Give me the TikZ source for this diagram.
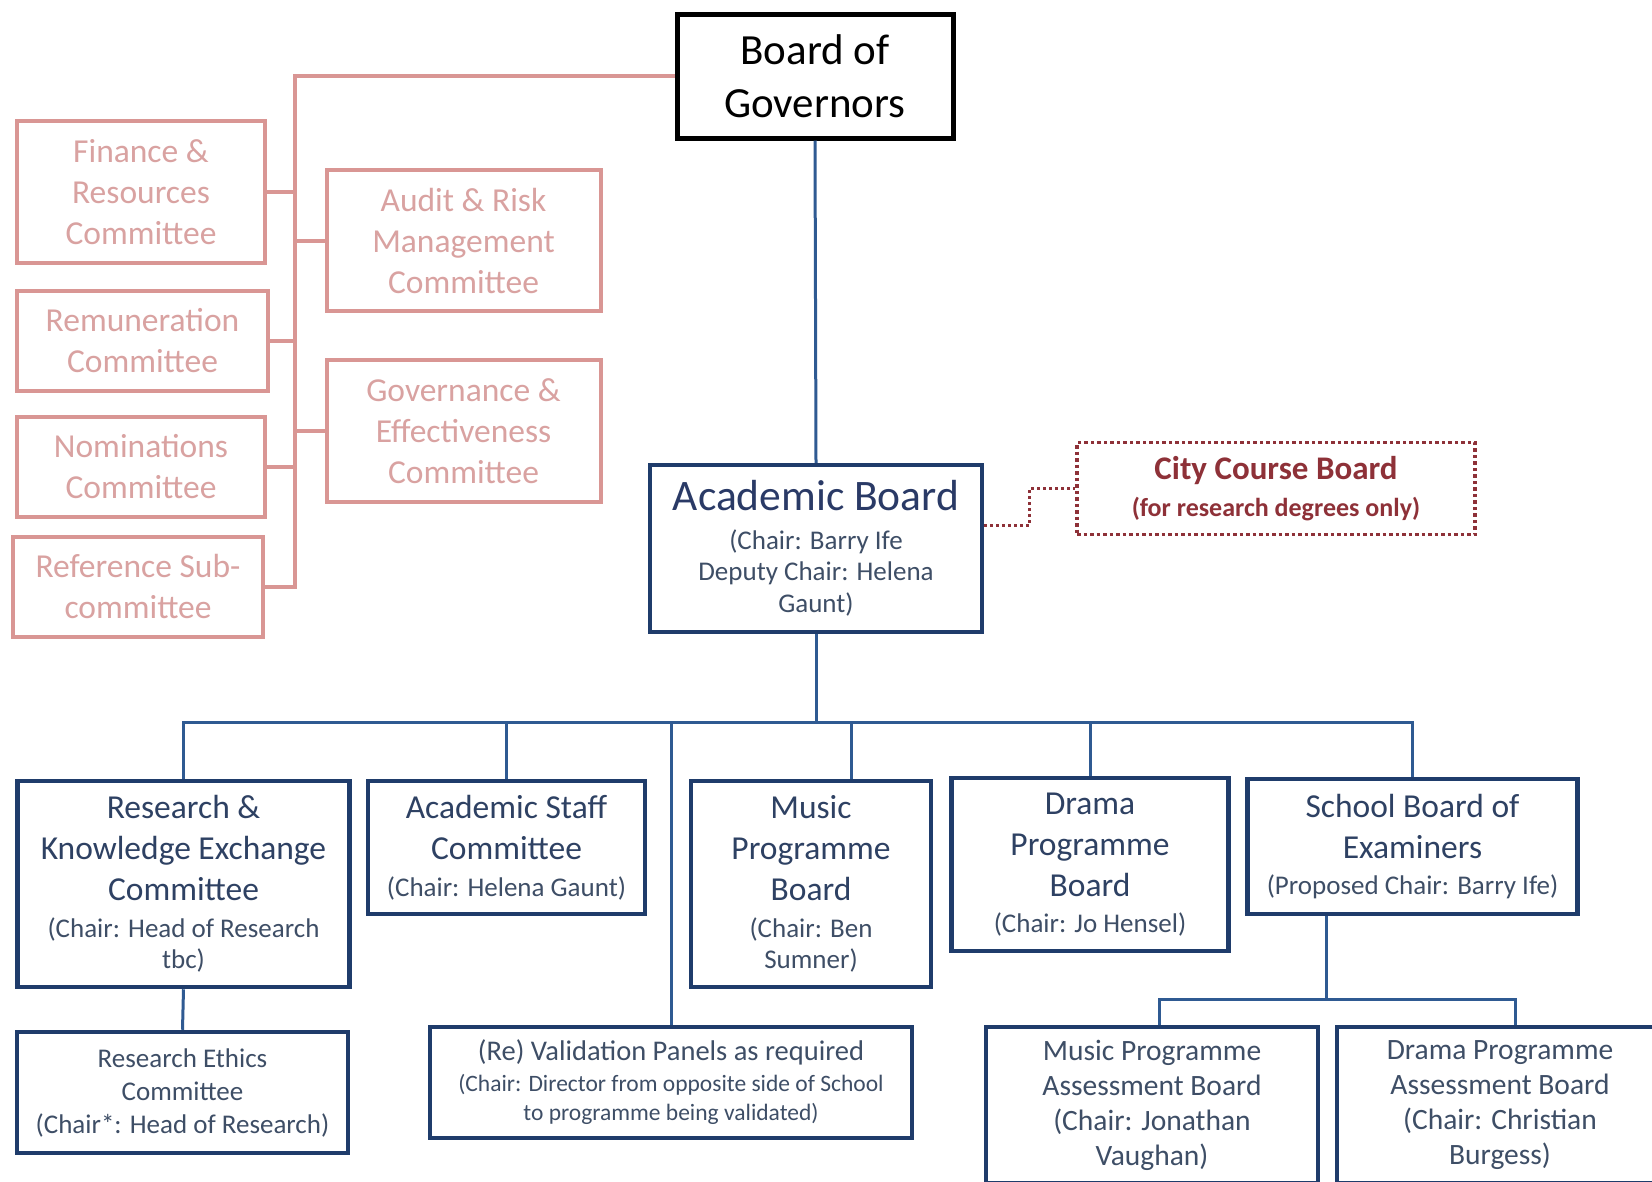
\documentclass[tikz,border=0pt]{standalone}
\usepackage{fontspec}
\setmainfont{Carlito}
\definecolor{pinkc}{HTML}{D99694}
\definecolor{pinktxt}{HTML}{D9A2A1}
\definecolor{navyb}{HTML}{1F3C6B}
\definecolor{lineb}{HTML}{2F5A92}
\definecolor{acadt}{HTML}{2A3A66}
\definecolor{titlet}{HTML}{2E4163}
\definecolor{chairt}{HTML}{3E4E66}
\definecolor{cityr}{HTML}{8E3138}
\newcommand\fsBig{\fontsize{43}{53}\selectfont}
\newcommand\fsPink{\fontsize{33.5}{41}\selectfont}
\newcommand\fsT{\fontsize{33.5}{41}\selectfont}
\newcommand\fsC{\fontsize{27}{31.5}\selectfont}
\newcommand\fsAcad{\fontsize{43.5}{46}\selectfont}
\newcommand\fsEth{\fontsize{27}{33}\selectfont}
\newcommand\fsVal{\fontsize{28.5}{31}\selectfont}
\newcommand\fsValS{\fontsize{23.5}{29}\selectfont}
\newcommand\fsPab{\fontsize{29.5}{35}\selectfont}
\newcommand\fsCity{\fontsize{33}{37}\selectfont\bfseries}
\newcommand\fsCityS{\fontsize{26}{32}\selectfont\bfseries}
\begin{document}
\begin{tikzpicture}[x=1pt,y=-1pt,
  sz/.style 2 args={minimum width=#1pt, minimum height=#2pt, text width=#1pt},
  pinkbox/.style={draw=pinkc, line width=4pt, fill=white, inner sep=0pt, align=flush center, text=pinktxt, font=\fsPink},
  navybox/.style={draw=navyb, line width=4.5pt, fill=white, inner sep=0pt, align=flush center, text=titlet},
  boardbox/.style={draw=black, line width=5pt, fill=white, inner sep=0pt, align=flush center, text=black, font=\fsBig},
  citybox/.style={draw=cityr, line width=3.5pt, dash pattern=on 3.5pt off 3pt, fill=white, inner sep=0pt, align=flush center, text=cityr},
  pinkline/.style={draw=pinkc, line width=4pt},
  navyline/.style={draw=lineb, line width=3pt},
  dotline/.style={draw=cityr, line width=3pt, dash pattern=on 3pt off 3pt}]
\fill[white] (0,0) rectangle (1652,1181);
\useasboundingbox (0,0) rectangle (1652,1181);

% Board of Governors
\node[boardbox, sz={276}{124}] (board) at (815,76) {Board of\\Governors\par};

% pink committees
\coordinate (tt) at (295,76);
\node[pinkbox, sz={248}{142}] (fin) at (141,192) {Finance \&\\Resources\\Committee\par};
\node[pinkbox, sz={251}{100}] (rem) at (142.5,341) {Remuneration\\Committee\par};
\node[pinkbox, sz={248}{100}] (nom) at (141,466.5) {Nominations\\Committee\par};
\node[pinkbox, sz={250}{100}] (ref) at (138,586.5) {Reference Sub-\\committee\par};
\node[pinkbox, sz={274}{141}] (aud) at (463.5,240.5) {Audit \& Risk\\Management\\Committee\par};
\node[pinkbox, sz={274}{142}] (gov) at (463.5,431) {Governance \&\\Effectiveness\\Committee\par};

\draw[pinkline] (board.west) -| (ref.east -| tt) -- (ref.east);
\draw[pinkline] (fin.east -| tt) -- (fin.east);
\draw[pinkline] (rem.east -| tt) -- (rem.east);
\draw[pinkline] (nom.east -| tt) -- (nom.east);
\draw[pinkline] (aud.west -| tt) -- (aud.west);
\draw[pinkline] (gov.west -| tt) -- (gov.west);

% Academic board and City Course Board
\node[navybox, sz={332}{167}] (acad) at (816,548.5)
  {\fsAcad\color{acadt}Academic Board\par\vspace{7pt}\fsC\color{chairt}(Chair: Barry Ife\\Deputy Chair: Helena\\Gaunt)\par};
\node[citybox, sz={398}{92}] (city) at (1276,488.5)
  {\fsCity City Course Board\par\vspace{5pt}\fsCityS (for research degrees only)\par};
\draw[navyline] (board.south) -- (acad.north);
\draw[dotline] ([yshift=23pt]acad.east) -- ++(45,0) |- (city.west);

% second level
\coordinate (bus) at (0,722);
\node[navybox, sz={332}{206}] (rke) at (183.5,884)
  {\fsT Research \&\\Knowledge Exchange\\Committee\par\vspace{5pt}\fsC\color{chairt}(Chair: Head of Research\\tbc)\par};
\node[navybox, sz={277}{133}] (ast) at (506.5,847.5)
  {\fsT Academic Staff\\Committee\par\vspace{5pt}\fsC\color{chairt}(Chair: Helena Gaunt)\par};
\node[navybox, sz={240}{206}] (mpb) at (811,884)
  {\fsT Music\\Programme\\Board\par\vspace{5pt}\fsC\color{chairt}(Chair: Ben\\Sumner)\par};
\node[navybox, sz={277}{173}] (dpb) at (1090,864.5)
  {\fsT Drama\\Programme\\Board\par\vspace{5pt}\fsC\color{chairt}(Chair: Jo Hensel)\par};
\node[navybox, sz={330}{135}] (sbe) at (1412.5,846.5)
  {\fsT School Board of\\Examiners\par\vspace{5pt}\fsC\color{chairt}(Proposed Chair: Barry Ife)\par};

\draw[navyline] (acad.south) -- (acad.south |- bus);
\draw[navyline] (rke.north) -- (rke.north |- bus) -- (sbe.north |- bus) -- (sbe.north);
\draw[navyline] (ast.north |- bus) -- (ast.north);
\draw[navyline] ([xshift=40pt]mpb.north |- bus) -- ([xshift=40pt]mpb.north);
\draw[navyline] (dpb.north |- bus) -- (dpb.north);

% third level
\node[navybox, sz={331}{121}] (eth) at (182.5,1092.5)
  {\fsEth\color{chairt}Research Ethics\\Committee\\(Chair*: Head of Research)\par};
\node[navybox, sz={482}{111}] (val) at (671,1082.5)
  {\fsVal\color{chairt}(Re) Validation Panels as required\par\vspace{2pt}\fsValS (Chair: Director from opposite side of School\\to programme being validated)\par};
\node[navybox, sz={332}{156}] (mpab) at (1152,1105)
  {\fsPab\color{chairt}Music Programme\\Assessment Board\\(Chair: Jonathan\\Vaughan)\par};
\node[navybox, sz={326}{156}] (dpab) at (1500,1105)
  {\fsPab\color{chairt}Drama Programme\\Assessment Board\\(Chair: Christian\\Burgess)\par};

\draw[navyline] (rke.south) -- (eth.north);
\draw[navyline] (val.north |- bus) -- (val.north);
\coordinate (sj) at (1326,999);
\draw[navyline] (sbe.south -| sj) -- (sj);
\draw[navyline] ([xshift=7pt]mpab.north) -- ([xshift=7pt]mpab.north |- sj) -- ([xshift=15pt]dpab.north |- sj) -- ([xshift=15pt]dpab.north);
\end{tikzpicture}
\end{document}
